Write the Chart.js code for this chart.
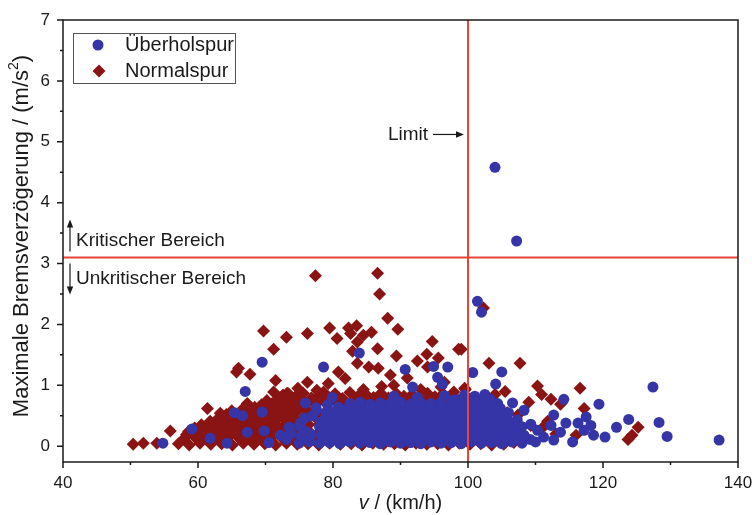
<!DOCTYPE html>
<html lang="de">
<head>
<meta charset="UTF-8">
<title>Maximale Bremsverzögerung über Geschwindigkeit</title>
<script src="https://cdn.jsdelivr.net/npm/chart.js"></script>
<style>
  html, body { margin: 0; padding: 0; background: #ffffff; }
  #wrap { width: 752px; height: 515px; }
</style>
</head>
<body>
<div id="wrap"><canvas id="chart" width="752" height="515"></canvas></div>
<script>
// axis ticks
const xTicks = [40, 60, 80, 100, 120, 140];
const xMinorTicks = [50, 70, 90, 110, 130];
const yTicks = [0, 1, 2, 3, 4, 5, 6, 7];
const yMinorTicks = [0.5, 1.5, 2.5, 3.5, 4.5, 5.5, 6.5];

// reference lines
const speedLimit = 100;      // km/h
const criticalDecel = 3.1;   // m/s²

// [v in km/h, max. deceleration in m/s²]
const ueberholspur = [
  [104.0,4.58],[107.2,3.37],[101.4,2.38],[102.0,2.20],[83.9,1.53],[69.5,1.38],[78.6,1.30],[90.7,1.26],
  [94.9,1.31],[97.0,1.30],[95.5,1.13],[96.2,1.02],[91.8,0.97],[100.7,1.21],[105.0,1.22],[104.1,1.02],
  [67.0,0.90],[127.4,0.97],[137.2,0.10],[129.5,0.16],[128.3,0.39],[123.8,0.44],[122.0,0.31],[120.3,0.15],
  [119.4,0.69],[118.6,0.18],[118.2,0.34],[117.5,0.48],[117.2,0.26],[116.3,0.38],[115.5,0.07],[114.5,0.38],
  [114.2,0.77],[113.7,0.23],[112.7,0.51],[112.7,0.10],[112.3,0.34],[111.2,0.15],[110.3,0.26],[110.0,0.07],
  [109.3,0.36],[108.3,0.59],[106.6,0.71],[104.4,0.70],
  [54.8,0.05],[59.1,0.28],[61.8,0.13],[64.3,0.05],[65.4,0.55],[66.6,0.50],[67.3,0.23],[69.5,0.56],
  [69.8,0.25],[70.5,0.06],[72.2,0.18],[73.1,0.11],[75.9,0.71],[79.9,0.80],[97.9,0.76],
  [75.0,0.05],[76.5,0.07],[78.0,0.05],[79.5,0.06],[81.0,0.04],[82.5,0.07],[84.0,0.05],[85.5,0.06],
  [87.0,0.04],[88.5,0.07],[90.0,0.05],[91.5,0.06],[93.0,0.04],[94.5,0.07],[96.0,0.05],[97.5,0.06],
  [99.0,0.04],[100.5,0.07],[102.0,0.05],[103.5,0.06],[105.0,0.04],[106.5,0.07],[108.0,0.05],
  [76.1,0.13],[79.1,0.12],[80.6,0.13],[82.1,0.11],[83.6,0.12],[85.1,0.13],
  [86.6,0.11],[88.1,0.12],[89.6,0.13],[91.1,0.11],[92.6,0.12],[94.1,0.13],[95.6,0.11],[97.1,0.12],
  [98.6,0.13],[100.1,0.11],[101.6,0.12],[103.1,0.13],[104.6,0.11],[106.1,0.12],[107.6,0.13],[109.2,0.11],
  [73.8,0.20],[75.3,0.17],[76.8,0.19],[78.3,0.18],[79.8,0.20],[81.3,0.17],[82.8,0.19],[84.3,0.18],
  [85.8,0.20],[87.3,0.17],[88.8,0.19],[90.3,0.18],[91.8,0.20],[93.3,0.17],[94.8,0.19],[96.3,0.18],
  [97.8,0.20],[99.3,0.17],[100.8,0.19],[102.3,0.18],[103.8,0.20],[105.3,0.17],[106.8,0.19],[108.3,0.18],
  [76.0,0.24],[79.0,0.25],[80.5,0.24],[82.0,0.26],[83.5,0.25],[85.0,0.24],
  [86.5,0.26],[88.0,0.25],[89.5,0.24],[91.0,0.26],[92.5,0.25],[94.0,0.24],[95.5,0.26],[97.0,0.25],
  [98.5,0.24],[100.0,0.26],[101.5,0.25],[103.0,0.24],[104.5,0.26],[106.0,0.25],[107.5,0.24],
  [73.5,0.31],[75.0,0.33],[78.0,0.32],[79.5,0.31],[81.0,0.33],[82.5,0.30],[84.0,0.32],
  [85.5,0.31],[87.0,0.33],[88.5,0.30],[90.0,0.32],[91.5,0.31],[93.0,0.33],[94.5,0.30],[96.0,0.32],
  [97.5,0.31],[99.0,0.33],[100.5,0.30],[102.0,0.32],[103.5,0.31],[105.0,0.33],[106.5,0.30],[108.0,0.32],
  [75.2,0.38],[78.2,0.39],[79.7,0.38],[81.2,0.37],[82.7,0.39],[84.2,0.38],[85.7,0.37],
  [87.2,0.39],[88.7,0.38],[90.2,0.37],[91.7,0.39],[93.2,0.38],[94.7,0.37],[96.2,0.39],[97.7,0.38],
  [99.2,0.37],[100.7,0.39],[102.2,0.38],[103.7,0.37],[105.2,0.39],[106.7,0.38],
  [75.8,0.46],[78.8,0.45],[80.3,0.44],[81.8,0.46],[83.3,0.43],[84.8,0.45],
  [86.3,0.44],[87.8,0.46],[89.3,0.43],[90.8,0.45],[92.3,0.44],[93.8,0.46],[95.3,0.43],[96.8,0.45],
  [98.3,0.44],[99.8,0.46],[101.3,0.43],[102.8,0.45],[104.3,0.44],[105.8,0.46],[107.3,0.43],
  [77.0,0.50],[80.0,0.51],[81.5,0.50],[83.0,0.52],[84.5,0.51],[86.0,0.50],
  [87.5,0.52],[89.0,0.51],[90.5,0.50],[92.0,0.52],[93.5,0.51],[95.0,0.50],[96.5,0.52],[98.0,0.51],
  [99.5,0.50],[101.0,0.52],[102.5,0.51],[104.0,0.50],[105.5,0.52],
  [77.5,0.59],[79.0,0.56],[80.5,0.58],[82.0,0.57],[83.5,0.59],[85.0,0.56],[86.5,0.58],
  [88.0,0.57],[89.5,0.59],[91.0,0.56],[92.5,0.58],[94.0,0.57],[95.5,0.59],[97.0,0.56],[98.5,0.58],
  [100.0,0.57],[101.5,0.59],[103.0,0.56],[104.5,0.58],[106.0,0.55],
  [77.5,0.63],[80.8,0.64],[82.3,0.62],[83.8,0.64],[85.3,0.63],[86.8,0.62],[88.3,0.64],[89.8,0.63],
  [91.3,0.62],[92.8,0.64],[94.3,0.63],[95.8,0.62],[97.3,0.64],[98.8,0.63],[100.3,0.62],[101.8,0.64],
  [103.3,0.63],[104.8,0.62],
  [79.2,0.68],[82.5,0.70],[84.0,0.72],[85.5,0.69],[87.0,0.71],[88.5,0.70],[90.0,0.72],[91.5,0.69],
  [93.0,0.71],[94.5,0.70],[96.0,0.72],[97.5,0.69],[99.0,0.71],[100.5,0.70],[102.0,0.72],[103.5,0.69],
  [98.8,0.77],[100.3,0.78],[101.8,0.76],[103.2,0.78],
  [89.0,0.82],[92.5,0.80],[96.5,0.83],[99.5,0.84],[101.0,0.82],[102.5,0.85]
];

const normalspur = [
  [77.4,2.80],[86.6,2.84],[86.9,2.50],[88.1,2.10],[89.6,1.92],[76.2,1.85],[79.5,1.94],[80.6,1.77],
  [82.3,1.94],[83.5,1.98],[82.6,1.85],[84.5,1.82],[85.7,1.87],[83.6,1.71],[86.6,1.60],[82.9,1.56],
  [89.4,1.48],[94.7,1.72],[98.6,1.59],[93.9,1.51],[95.6,1.45],[69.7,1.89],[73.1,1.79],[71.2,1.59],
  [66.0,1.28],[102.3,2.27],[99.0,1.59],[103.1,1.36],[107.7,1.36],[110.3,0.99],[116.6,0.95],[110.9,0.85],
  [112.3,0.77],[113.7,0.69],[117.2,0.62],[111.8,0.41],[125.2,0.31],[123.7,0.11],[124.3,0.18],[116.0,0.18],
  [65.7,1.22],[67.7,1.18],[71.5,1.08],[71.2,0.89],[72.6,0.84],[67.3,0.70],[76.2,1.05],[79.3,1.03],
  [80.8,1.22],[81.8,1.11],[83.6,1.36],[85.3,1.30],[86.7,1.28],[88.5,1.17],[89.0,1.00],[78.6,0.89],
  [73.2,0.87],[94.0,1.30],[97.9,0.89],[92.5,1.40],[91.0,1.12],[96.5,1.05],[99.5,0.95],[105.5,0.90],
  [104.0,0.85],[103.5,0.70],[105.8,0.55],[107.4,0.51],[109.0,0.72],[109.3,0.34],[111.0,0.30],[113.0,0.20],
  [107.5,0.35],[106.0,0.13],[61.4,0.62],[63.3,0.54],[55.9,0.25],[104.8,0.44],[106.2,0.28],[106.8,0.06],
  [50.4,0.03],[51.9,0.05],[53.9,0.05],[57.1,0.04],[58.7,0.02],[60.3,0.05],[61.9,0.03],[63.5,0.04],
  [65.1,0.02],[66.7,0.05],[68.3,0.03],[69.9,0.04],[71.5,0.02],[73.1,0.05],[74.7,0.03],[76.3,0.04],
  [77.9,0.02],[79.5,0.05],[81.1,0.03],[82.7,0.04],[84.3,0.02],[85.9,0.05],[87.5,0.03],[89.1,0.04],
  [90.7,0.02],[92.3,0.05],[93.9,0.03],[95.5,0.04],[97.1,0.02],[98.7,0.05],[100.3,0.03],[101.9,0.04],
  [103.5,0.02],[105.3,0.03],
  [57.9,0.12],[59.5,0.15],[61.1,0.13],[62.7,0.14],[64.3,0.12],[65.9,0.15],[67.5,0.13],[69.1,0.14],
  [70.7,0.12],[72.3,0.15],[73.9,0.13],[75.5,0.14],[77.1,0.12],[78.7,0.15],[80.3,0.13],[81.9,0.14],
  [83.5,0.12],[85.1,0.15],[86.7,0.13],[88.3,0.14],[89.9,0.12],[91.5,0.15],[93.1,0.13],[94.7,0.14],
  [96.3,0.12],[97.9,0.15],[99.5,0.13],[101.1,0.14],[102.7,0.12],[104.3,0.15],
  [58.3,0.19],[59.9,0.20],[61.5,0.18],[63.1,0.19],[64.7,0.20],[66.3,0.18],[67.9,0.19],[69.5,0.20],
  [71.1,0.18],[72.7,0.19],[74.3,0.20],
  [58.6,0.24],[60.3,0.26],[61.9,0.23],[63.5,0.25],[65.1,0.27],[66.7,0.24],[68.3,0.26],[69.9,0.23],
  [71.5,0.25],[73.1,0.27],[74.7,0.24],[76.3,0.26],[77.9,0.23],[79.5,0.25],[81.1,0.27],[82.7,0.24],
  [84.3,0.26],[85.9,0.23],[87.5,0.25],[89.1,0.27],[90.7,0.24],[92.3,0.26],[93.9,0.23],[95.5,0.25],
  [97.1,0.27],[98.7,0.24],[100.3,0.26],[101.9,0.23],[103.5,0.25],[105.2,0.24],
  [59.5,0.30],[61.1,0.31],[62.7,0.29],[64.3,0.30],[65.9,0.31],[67.5,0.29],[69.1,0.30],[70.7,0.31],
  [72.3,0.29],[73.9,0.30],
  [60.5,0.35],[62.0,0.37],[63.6,0.35],[65.2,0.36],[66.8,0.38],[68.4,0.35],[70.0,0.37],[71.6,0.34],
  [73.2,0.36],[74.8,0.38],[76.4,0.35],[78.0,0.37],[79.6,0.34],[81.2,0.36],[82.8,0.38],[84.4,0.35],
  [86.0,0.37],[87.6,0.34],[89.2,0.36],[90.8,0.38],[92.4,0.35],[94.0,0.37],[95.6,0.34],[97.2,0.36],
  [98.8,0.38],[100.4,0.35],[102.0,0.37],[103.6,0.34],
  [61.8,0.41],[63.4,0.42],[65.0,0.40],[66.6,0.41],[68.2,0.42],[69.8,0.40],[71.4,0.41],[73.0,0.42],
  [63.0,0.46],[64.5,0.48],[66.0,0.45],[67.6,0.47],[69.2,0.49],[70.8,0.46],[72.4,0.48],[74.0,0.45],
  [75.6,0.47],[77.2,0.49],[78.8,0.46],[80.4,0.48],[82.0,0.45],[83.6,0.47],[85.2,0.49],[86.8,0.46],
  [88.4,0.48],[90.0,0.45],[91.6,0.47],[93.2,0.49],[94.8,0.46],[96.4,0.48],[98.0,0.45],[99.6,0.47],
  [101.2,0.49],[102.8,0.46],
  [64.2,0.52],[65.8,0.53],[67.4,0.51],[69.0,0.52],[70.6,0.53],[72.2,0.51],[73.8,0.52],
  [65.0,0.58],[66.6,0.57],[68.2,0.59],[69.8,0.56],[71.4,0.58],[73.0,0.60],[74.6,0.57],[76.2,0.59],
  [77.8,0.56],[79.4,0.58],[81.0,0.60],[82.6,0.57],[84.2,0.59],[85.8,0.56],[87.4,0.58],[89.0,0.60],
  [90.6,0.57],[92.2,0.59],[93.8,0.56],[95.4,0.58],[97.0,0.60],[98.6,0.57],[100.2,0.59],[101.8,0.56],
  [66.8,0.63],[68.4,0.64],[70.0,0.62],[71.6,0.63],[73.2,0.64],[74.8,0.62],
  [69.4,0.68],[71.0,0.70],[72.6,0.67],[74.2,0.69],[75.8,0.71],[77.4,0.68],[79.0,0.70],[80.6,0.72],
  [82.2,0.69],[83.8,0.71],[85.4,0.68],[87.0,0.70],[88.6,0.72],[90.2,0.69],[91.8,0.71],[93.4,0.68],
  [95.0,0.70],[96.6,0.72],[98.2,0.69],[99.8,0.71],
  [70.2,0.75],[71.8,0.77],[73.4,0.76],[75.0,0.78],[76.6,0.75],[78.2,0.77],[79.8,0.76],[81.4,0.78],
  [83.0,0.75],[84.6,0.77],[86.2,0.76],[87.8,0.78],[89.4,0.75],[91.0,0.77],[92.6,0.76],[94.2,0.78],
  [95.8,0.75],[97.4,0.77],[99.0,0.76],
  [72.2,0.80],[74.5,0.82],[76.8,0.79],[79.2,0.81],[81.4,0.78],[83.7,0.82],[86.0,0.80],[88.2,0.79],
  [90.5,0.82],[92.8,0.80],[95.1,0.81],[97.0,0.78],
  [73.4,0.86],[75.6,0.87],[78.0,0.85],[80.3,0.86],[82.5,0.88],[84.9,0.85],[87.1,0.87],[89.4,0.86],
  [91.7,0.85],[94.0,0.87],[96.3,0.86],
  [74.8,0.95],[77.6,0.92],[84.5,0.93],[87.2,0.98],[93.0,0.93],[96.0,0.97],[99.6,0.93]
];

const FONT = "'Liberation Sans', Arial, Helvetica, sans-serif";
const BLUE = '#3535a8';
const RED = '#8a1414';
const LIMIT_RED = '#e8453a';
const INK = '#1a1a1a';

function arrow(ctx, x1, y1, x2, y2) {
  const ang = Math.atan2(y2 - y1, x2 - x1);
  const hl = 8, hw = 3.2;
  ctx.beginPath();
  ctx.moveTo(x1, y1);
  ctx.lineTo(x2 - Math.cos(ang) * hl * 0.6, y2 - Math.sin(ang) * hl * 0.6);
  ctx.stroke();
  ctx.beginPath();
  ctx.moveTo(x2, y2);
  ctx.lineTo(x2 - Math.cos(ang) * hl - Math.sin(ang) * hw, y2 - Math.sin(ang) * hl + Math.cos(ang) * hw);
  ctx.lineTo(x2 - Math.cos(ang) * hl + Math.sin(ang) * hw, y2 - Math.sin(ang) * hl - Math.cos(ang) * hw);
  ctx.closePath();
  ctx.fill();
}

// limit lines, frame, tick marks, notes, legend and axis titles
const decorations = {
  id: 'decorations',
  afterDatasetsDraw(chart) {
    const { ctx, chartArea: a, scales: { x, y } } = chart;
    ctx.save();

    const lx = x.getPixelForValue(speedLimit);
    const ly = y.getPixelForValue(criticalDecel);
    ctx.strokeStyle = LIMIT_RED;
    ctx.lineWidth = 2;
    ctx.beginPath();
    ctx.moveTo(lx, a.top); ctx.lineTo(lx, a.bottom);
    ctx.moveTo(a.left, ly); ctx.lineTo(a.right, ly);
    ctx.stroke();

    // frame
    ctx.strokeStyle = INK;
    ctx.lineWidth = 1.5;
    ctx.strokeRect(a.left, a.top, a.right - a.left, a.bottom - a.top);

    // tick marks
    ctx.beginPath();
    xTicks.forEach(v => { const p = x.getPixelForValue(v); ctx.moveTo(p, a.bottom); ctx.lineTo(p, a.bottom + 6); });
    xMinorTicks.forEach(v => { const p = x.getPixelForValue(v); ctx.moveTo(p, a.bottom); ctx.lineTo(p, a.bottom + 3); });
    yTicks.forEach(v => { const p = y.getPixelForValue(v); ctx.moveTo(a.left - 6, p); ctx.lineTo(a.left, p); });
    yMinorTicks.forEach(v => { const p = y.getPixelForValue(v); ctx.moveTo(a.left - 3, p); ctx.lineTo(a.left, p); });
    ctx.stroke();

    // region notes
    ctx.fillStyle = INK;
    ctx.strokeStyle = INK;
    ctx.lineWidth = 1.2;
    ctx.font = '19px ' + FONT;
    ctx.textBaseline = 'middle';
    ctx.textAlign = 'left';
    ctx.fillText('Kritischer Bereich', a.left + 13, ly - 17);
    ctx.fillText('Unkritischer Bereich', a.left + 13, ly + 21);
    arrow(ctx, a.left + 7, ly - 6, a.left + 7, ly - 38);
    arrow(ctx, a.left + 7, ly + 6, a.left + 7, ly + 37);

    // limit note
    const ny = y.getPixelForValue(5.12);
    ctx.textAlign = 'right';
    ctx.fillText('Limit', lx - 40, ny);
    arrow(ctx, lx - 35, ny, lx - 4, ny);

    // legend
    ctx.lineWidth = 1;
    ctx.strokeStyle = '#555';
    ctx.strokeRect(a.left + 10.5, a.top + 13.5, 162, 50);
    ctx.fillStyle = BLUE;
    ctx.beginPath(); ctx.arc(a.left + 35, a.top + 25, 5.5, 0, Math.PI * 2); ctx.fill();
    ctx.fillStyle = RED;
    ctx.beginPath();
    const dx = a.left + 36, dy = a.top + 51;
    ctx.moveTo(dx, dy - 6.5); ctx.lineTo(dx + 6.5, dy); ctx.lineTo(dx, dy + 6.5); ctx.lineTo(dx - 6.5, dy);
    ctx.closePath(); ctx.fill();
    ctx.fillStyle = INK;
    ctx.font = '20px ' + FONT;
    ctx.textAlign = 'left';
    ctx.fillText('Überholspur', a.left + 62, a.top + 25);
    ctx.fillText('Normalspur', a.left + 62, a.top + 51);

    // x axis title
    const cx = (a.left + a.right) / 2;
    ctx.font = 'italic 20px ' + FONT;
    const vW = ctx.measureText('v').width;
    ctx.font = '20px ' + FONT;
    const restW = ctx.measureText(' / (km/h)').width;
    const sx = cx - (vW + restW) / 2;
    ctx.font = 'italic 20px ' + FONT;
    ctx.fillText('v', sx, 503);
    ctx.font = '20px ' + FONT;
    ctx.fillText(' / (km/h)', sx + vW, 503);

    // y axis title with superscript
    const t1 = 'Maximale Bremsverzögerung / (m/s';
    ctx.save();
    ctx.translate(22, 236);
    ctx.rotate(-Math.PI / 2);
    ctx.font = '22px ' + FONT;
    const w1 = ctx.measureText(t1).width;
    const w3 = ctx.measureText(')').width;
    ctx.font = '14px ' + FONT;
    const w2 = ctx.measureText('2').width;
    const tx = -(w1 + w2 + w3) / 2;
    ctx.font = '22px ' + FONT;
    ctx.fillText(t1, tx, 0);
    ctx.font = '14px ' + FONT;
    ctx.fillText('2', tx + w1, -8);
    ctx.font = '22px ' + FONT;
    ctx.fillText(')', tx + w1 + w2, 0);
    ctx.restore();

    ctx.restore();
  }
};

const toPoints = arr => arr.map(([v, d]) => ({ x: v, y: d }));

new Chart(document.getElementById('chart'), {
  type: 'scatter',
  data: {
    datasets: [
      {
        label: 'Überholspur',
        data: toPoints(ueberholspur),
        pointStyle: 'circle',
        pointRadius: 5.5,
        backgroundColor: BLUE,
        borderWidth: 0
      },
      {
        label: 'Normalspur',
        data: toPoints(normalspur),
        pointStyle: 'rectRot',
        pointRadius: 6.5,
        backgroundColor: RED,
        borderWidth: 0
      }
    ]
  },
  options: {
    responsive: false,
    animation: false,
    events: [],
    layout: { padding: { top: 20, right: 14, left: 0, bottom: 0 } },
    plugins: { legend: { display: false }, tooltip: { enabled: false } },
    scales: {
      x: {
        type: 'linear',
        min: 40,
        max: 140,
        afterBuildTicks: s => { s.ticks = xTicks.map(v => ({ value: v })); },
        afterFit: s => { s.height = 53; s.paddingLeft = 0; s.paddingRight = 0; },
        grid: { display: false, drawTicks: false },
        border: { display: false },
        ticks: { font: { family: FONT, size: 17 }, color: INK, padding: 11, maxRotation: 0 }
      },
      y: {
        type: 'linear',
        min: -0.26,
        max: 7,
        afterBuildTicks: s => { s.ticks = yTicks.map(v => ({ value: v })); },
        afterFit: s => { s.width = 63; s.paddingTop = 0; s.paddingBottom = 0; },
        grid: { display: false, drawTicks: false },
        border: { display: false },
        ticks: { font: { family: FONT, size: 17 }, color: INK, padding: 13 }
      }
    }
  },
  plugins: [decorations]
});
</script>
</body>
</html>
